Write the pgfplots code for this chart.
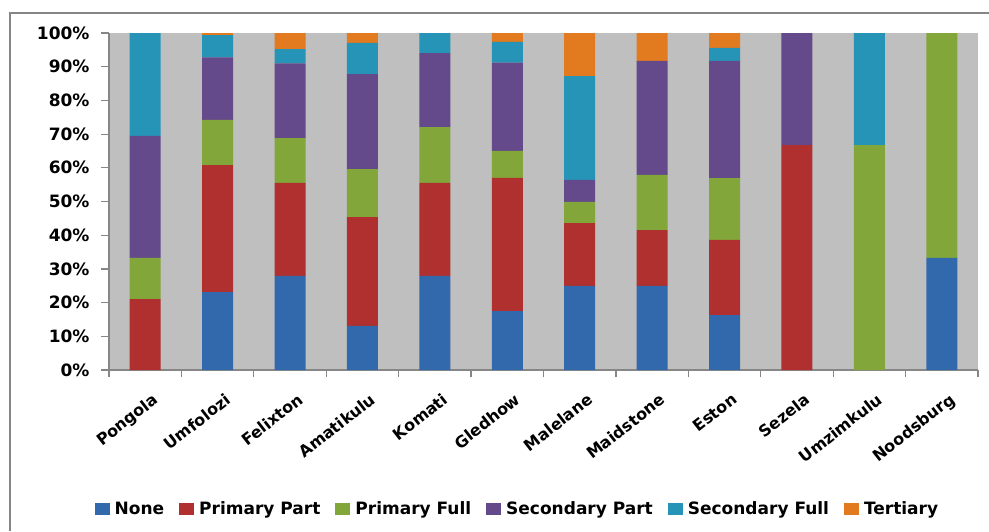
\documentclass[border=0pt]{standalone}
\usepackage{fontspec}
\setmainfont{DejaVu Sans}
\usepackage{pgfplots}
\usepackage{pgfplotstable}
\pgfplotsset{compat=1.18}
\definecolor{cNone}{RGB}{50,104,172}
\definecolor{cPP}{RGB}{176,48,48}
\definecolor{cPF}{RGB}{130,166,58}
\definecolor{cSP}{RGB}{100,74,138}
\definecolor{cSF}{RGB}{38,148,182}
\definecolor{cT}{RGB}{226,122,32}
\definecolor{plotgray}{RGB}{191,191,191}
\definecolor{axisgray}{RGB}{134,134,134}

\pgfplotstableread{
x none pp pf sp sf t
0 0 21.0 12.3 36.2 30.5 0
1 23.1 37.7 13.4 18.6 6.6 0.6
2 27.9 27.6 13.3 22.2 4.2 4.8
3 13.1 32.3 14.2 28.2 9.3 2.9
4 27.9 27.6 16.6 21.9 6.0 0
5 17.5 39.5 8.0 26.2 6.2 2.6
6 25.0 18.6 6.3 6.5 30.8 12.8
7 25.0 16.5 16.4 33.8 0 8.3
8 16.3 22.3 18.3 34.8 3.9 4.4
9 0 66.7 0 33.3 0 0
10 0 0 66.7 0 33.3 0
11 33.3 0 66.7 0 0 0
}\data

\begin{document}
\begin{tikzpicture}[x=1pt,y=1pt]
\useasboundingbox (0,0) rectangle (989,531);
\fill[white] (0,0) rectangle (989,531);
\begin{axis}[
  at={(109pt,161pt)}, anchor=south west,
  scale only axis, width=869pt, height=337pt,
  ybar stacked, bar width=31pt,
  xmin=-0.5, xmax=11.5, ymin=0, ymax=100,
  axis background/.style={fill=plotgray},
  axis x line*=bottom, axis y line*=left,
  axis line style={draw=axisgray, line width=1.3pt},
  tick align=outside,
  ytick={0,10,...,100},
  yticklabel={\pgfmathprintnumber{\tick}\%},
  /pgf/number format/assume math mode=true,
  y tick style={draw=axisgray, line width=1.2pt},
  major tick length=8pt,
  xtick={0,...,11},
  xticklabels={Pongola,Umfolozi,Felixton,Amatikulu,Komati,Gledhow,Malelane,Maidstone,Eston,Sezela,Umzimkulu,Noodsburg},
  major x tick style={draw=none},
  minor xtick={-0.5,0.5,...,11.5},
  minor x tick style={draw=axisgray, line width=1.2pt},
  minor tick length=7pt,
  yticklabel style={font=\fontsize{17}{20}\selectfont\bfseries, xshift=-8pt},
  xticklabel style={font=\fontsize{16}{19}\selectfont\bfseries, rotate=38, anchor=north east, xshift=0pt, yshift=-12pt},
  legend columns=6,
  legend style={at={(0.47,-0.4125)}, anchor=center, draw=none, fill=none,
    font=\fontsize{17}{20}\selectfont\bfseries,
    /tikz/every odd column/.append style={column sep=3pt},
    /tikz/every even column/.append style={column sep=13pt},
    inner sep=0pt},
  legend image code/.code={\fill[#1] (0pt,-6pt) rectangle (15pt,6pt);},
]
\addplot[fill=cNone, draw=none] table[x=x,y=none]{\data};
\addplot[fill=cPP, draw=none] table[x=x,y=pp]{\data};
\addplot[fill=cPF, draw=none] table[x=x,y=pf]{\data};
\addplot[fill=cSP, draw=none] table[x=x,y=sp]{\data};
\addplot[fill=cSF, draw=none] table[x=x,y=sf]{\data};
\addplot[fill=cT, draw=none] table[x=x,y=t]{\data};
\legend{None,Primary Part,Primary Full,Secondary Part,Secondary Full,Tertiary}
\end{axis}
\draw[axisgray, line width=2pt] (10,0) -- (10,518.3) -- (989,518.3);
\end{tikzpicture}
\end{document}
